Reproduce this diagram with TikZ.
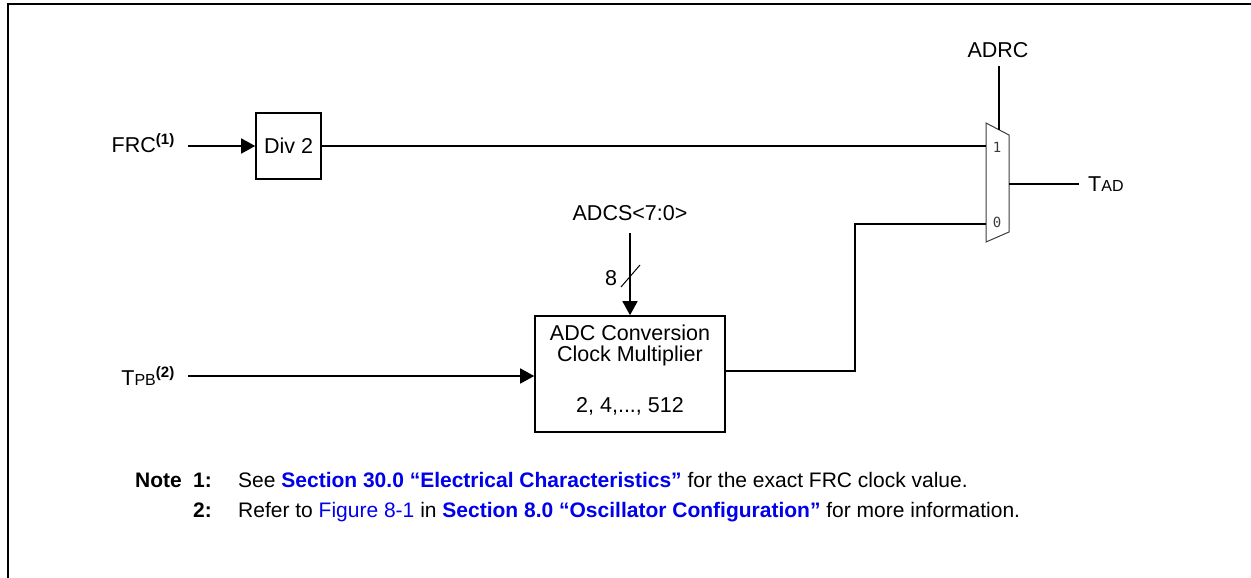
\documentclass[tikz,border=0pt]{standalone}
\usepackage{fontspec}
\setmainfont{Liberation Sans}
\newfontfamily\monof{DejaVu Sans Mono}
\usetikzlibrary{arrows.meta}
\definecolor{linkblue}{RGB}{0,0,235}
\definecolor{muxgray}{RGB}{60,60,60}
\begin{document}
\begin{tikzpicture}[x=1pt,y=-1pt,
  lbl/.style={font=\fontsize{21.5}{25}\selectfont, inner sep=0pt},
  notef/.style={font=\fontsize{21}{24}\selectfont, inner sep=0pt, anchor=base west},
  noteb/.style={notef, font=\fontsize{21}{24}\selectfont\bfseries},
  blk/.style={draw, line width=1.6pt, inner sep=0pt},
  wire/.style={line width=1.6pt},
  arr/.style={wire, -{Triangle[length=14pt,width=15pt]}},
  muxline/.style={draw=muxgray, line width=1pt},
  muxlbl/.style={font=\monof\fontsize{14}{14}\selectfont, text=muxgray, inner sep=0pt}
]
\useasboundingbox (0,0) rectangle (1251,578);
\draw[line width=2pt] (8,578) -- (8,4) -- (1251,4);

% FRC path
\node[lbl, anchor=east] (frc) at (175,143) {FRC\textsuperscript{\bfseries(1)}};
\coordinate (frcend) at (188,146);
\node[blk, minimum width=65pt, minimum height=66pt, lbl, draw] (div) at (288.5,146) {Div 2};
\draw[arr] (frcend) -- (div.west);

% MUX
\coordinate (m1) at (986,123);
\coordinate (m2) at (1009,135);
\coordinate (m3) at (1009,232);
\coordinate (m4) at (986,242);
\draw[muxline] (m1) -- (m2) -- (m3) -- (m4) -- cycle;
\coordinate (in1) at (986,146);
\coordinate (in0) at (986,224);
\coordinate (mout) at (1009,184);
\coordinate (msel) at (999,129.8);
\node[muxlbl] (l1) at (997,147) {1};
\node[muxlbl] (l0) at (997,222) {0};

\node[lbl] (adrc) at (998,50) {ADRC};
\coordinate (adrcend) at (999,66);
\draw[wire] (adrcend) -- (msel);

\draw[wire] (div.east) -- (in1);

\node[lbl, anchor=west] (tad) at (1088,184) {T{\fontsize{16}{16}\selectfont AD}};
\coordinate (tadend) at (1079,184);
\draw[wire] (mout) -- (tadend);

% Multiplier
\node[blk, minimum width=190pt, minimum height=116pt] (mul) at (630,374) {};
\node[lbl] (mt1) at (630,333) {ADC Conversion};
\node[lbl] (mt2) at (630,356) {Clock Multiplier};
\node[lbl] (mt3) at (630,406) {2, 4,..., 512};

\node[lbl] (adcs) at (630,213) {ADCS<7:0>};
\coordinate (adcsend) at (630,233);
\draw[arr] (adcsend) -- (mul.north);
\coordinate (sl1) at (621,287);
\coordinate (sl2) at (640,265);
\draw[line width=1pt] (sl1) -- (sl2);
\node[lbl] (eight) at (611,278) {8};

\node[lbl, anchor=east] (tpb) at (175,376) {T{\fontsize{16}{16}\selectfont PB}\textsuperscript{\bfseries(2)}};
\coordinate (tpbend) at (188,376);
\draw[arr] (tpbend) -- (tpbend -| mul.west);

\coordinate (bend1) at (855,371);
\coordinate (bend2) at (855,224);
\draw[wire] (mul.east |- bend1) -- (bend1) -- (bend2) -- (in0);

% Notes
\node[noteb] (note) at (135,487) {Note};
\node[noteb] (n1) at (193,487) {1:};
\node[notef] (n1t) at (238,487) {See \textcolor{linkblue}{\bfseries Section 30.0 “Electrical Characteristics”} for the exact FRC clock value.};
\node[noteb] (n2) at (193,517) {2:};
\node[notef] (n2t) at (238,517) {Refer to \textcolor{linkblue}{Figure 8-1} in \textcolor{linkblue}{\bfseries Section 8.0 “Oscillator Configuration”} for more information.};
\end{tikzpicture}
\end{document}
